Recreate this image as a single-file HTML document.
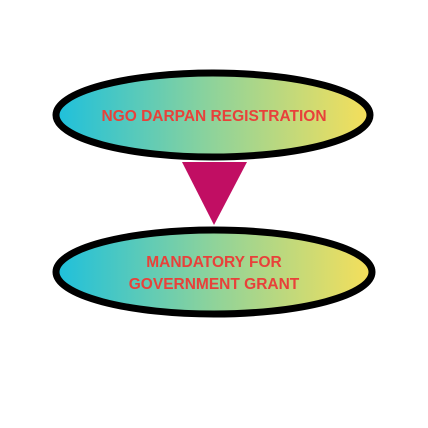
<!DOCTYPE html>
<html><head><meta charset="utf-8">
<style>html,body{margin:0;padding:0;background:#fff;width:428px;height:428px;overflow:hidden}</style>
</head><body>
<svg width="428" height="428" viewBox="0 0 428 428">
<defs>
<linearGradient id="g" x1="0" x2="1" y1="0" y2="0">
<stop offset="0" stop-color="#1ec0dc"/>
<stop offset="0.5" stop-color="#8fd39a"/>
<stop offset="1" stop-color="#f6df5a"/>
</linearGradient>
</defs>
<rect width="428" height="428" fill="#fff"/>
<ellipse cx="213" cy="115" rx="157" ry="42" fill="url(#g)" stroke="#000" stroke-width="7"/>
<text x="214" y="121" text-anchor="middle" font-family="Liberation Sans, sans-serif" font-weight="bold" font-size="15.5" fill="#e8413a">NGO DARPAN REGISTRATION</text>
<polygon points="182,162 247,162 214,225" fill="#c10e63"/>
<ellipse cx="214" cy="272" rx="158" ry="42" fill="url(#g)" stroke="#000" stroke-width="7"/>
<text x="214" y="267" text-anchor="middle" font-family="Liberation Sans, sans-serif" font-weight="bold" font-size="15.5" fill="#e8413a">MANDATORY FOR</text>
<text x="214" y="289" text-anchor="middle" font-family="Liberation Sans, sans-serif" font-weight="bold" font-size="15.5" fill="#e8413a">GOVERNMENT GRANT</text>
</svg>
</body></html>
